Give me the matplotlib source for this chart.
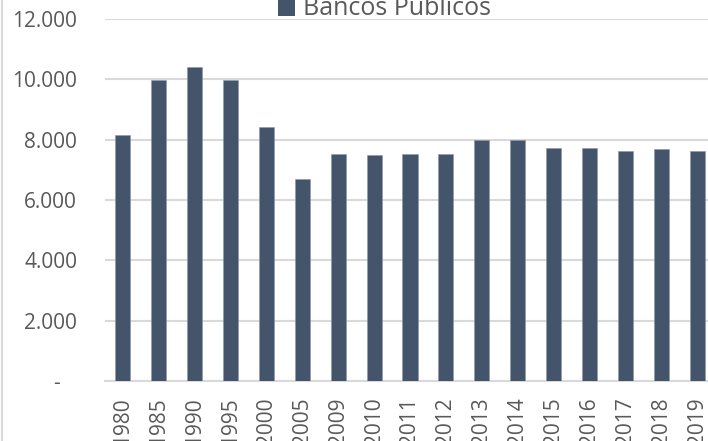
import matplotlib
matplotlib.use("Agg")
import matplotlib.pyplot as plt
from matplotlib.lines import Line2D
from matplotlib.patches import Rectangle
from matplotlib.ticker import FuncFormatter

plt.rcParams["font.family"] = ["Open Sans", "DejaVu Sans"]

# Bancos públicos por ano
years = ["1980", "1985", "1990", "1995", "2000", "2005", "2009", "2010", "2011",
         "2012", "2013", "2014", "2015", "2016", "2017", "2018", "2019"]
bancos_publicos = [8160, 9980, 10410, 9980, 8430, 6690, 7510, 7480, 7510,
                   7540, 7980, 7980, 7720, 7710, 7610, 7680, 7620]
series_label = "Bancos Públicos"

BAR_COLOR = "#44546A"
GRID_COLOR = "#D9D9D9"
TEXT_COLOR = "#595959"

W, H = 708, 441
fig = plt.figure(figsize=(W / 100, H / 100), dpi=100)
# axes run slightly past the right edge, as in the cropped original
ax = fig.add_axes([105 / W, 60 / H, 610 / W, 362 / H])

x = range(len(years))
ax.bar(x, bancos_publicos, width=0.42, color=BAR_COLOR,
       edgecolor="#8A96A8", linewidth=0.4, zorder=3)

ax.set_xlim(-0.5, len(years) - 0.5)
ax.set_ylim(0, 12000)
ax.set_yticks(range(0, 12001, 2000))


def fmt_thousands(v, _pos):
    if v == 0:
        return "-   "
    return f"{int(v):,}".replace(",", ".")


ax.yaxis.set_major_formatter(FuncFormatter(fmt_thousands))
ax.set_xticks(list(x))
ax.set_xticklabels(years, rotation=90, va="top", ha="center")

ax.grid(axis="y", color=GRID_COLOR, linewidth=1.5, zorder=0)
for side in ("top", "right", "left"):
    ax.spines[side].set_visible(False)
ax.spines["bottom"].set_color(GRID_COLOR)
ax.spines["bottom"].set_linewidth(1.5)
ax.tick_params(axis="both", length=0, colors=TEXT_COLOR, labelsize=15)
ax.tick_params(axis="y", pad=20)
ax.tick_params(axis="x", pad=12)

# legend drawn by hand: square key + label, cut off by the top edge
fig.add_artist(Rectangle((278 / W, (H - 16) / H), 17 / W, 17 / H,
                         facecolor=BAR_COLOR, edgecolor="none",
                         transform=fig.transFigure))
fig.text(303 / W, (H - 15) / H, series_label, fontsize=18,
         color=TEXT_COLOR, va="baseline", ha="left")

# faint chart-area border on the left edge
fig.add_artist(Line2D([1.5 / W, 1.5 / W], [0, 1], color=GRID_COLOR,
                      linewidth=1.5, transform=fig.transFigure))

fig.savefig("out.png", dpi=100)
